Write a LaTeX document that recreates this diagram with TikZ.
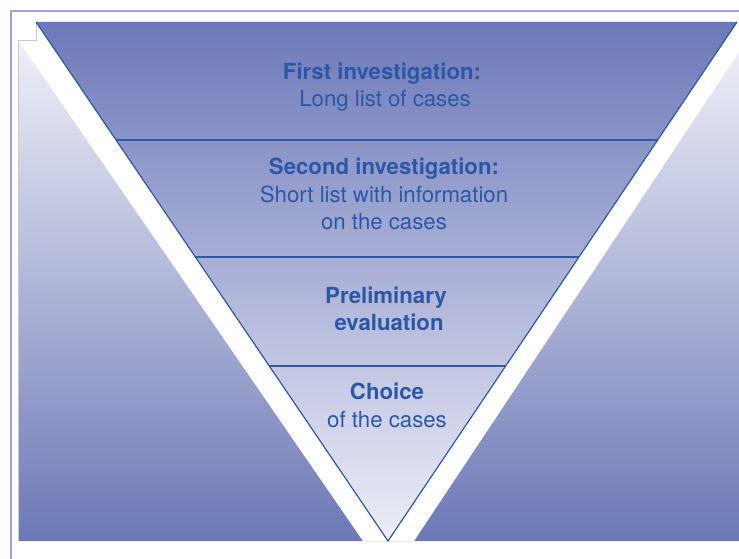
\documentclass[tikz,border=0pt]{standalone}
\usepackage{fontspec}
\setmainfont{TeX Gyre Heros}
\usetikzlibrary{calc}
\definecolor{bgtop}{HTML}{F4F4FA}
\definecolor{bgmid}{HTML}{C4C4E2}
\definecolor{bgbot}{HTML}{6C78B6}
\definecolor{intop}{HTML}{6D79B9}
\definecolor{inmid}{HTML}{A6A8D4}
\definecolor{inbot}{HTML}{EEEEF7}
\definecolor{edgeblue}{HTML}{2C5AA8}
\definecolor{txtblue}{HTML}{2A58A6}
\definecolor{framec}{HTML}{9E9EDC}
\definecolor{notchc}{HTML}{C8C8CC}
\tikzset{
  framestyle/.style={draw=framec, line width=1.3pt},
  notchstyle/.style={draw=notchc, line width=0.8pt},
  edgestyle/.style={draw=edgeblue, line width=1.2pt},
  seplinestyle/.style={draw=edgeblue, line width=1.2pt},
  lbl/.style={text=txtblue, align=center, font=\fontsize{22.2}{27.5}\selectfont, inner sep=0pt}
}
\begin{document}
\begin{tikzpicture}[x=1pt,y=-1pt]
\useasboundingbox (0,0) rectangle (739,559);
\fill[white] (0,0) rectangle (739,559);
% frame lines
\draw[framestyle] (10,11) -- (739,11);
\draw[framestyle] (11,11) -- (11,559);
% background with gradient
\shade[top color=bgtop, middle color=bgmid, bottom color=bgbot]
  (18,40) -- (36,40) -- (36,22) -- (739,22) -- (739,541) -- (18,541) -- cycle;
% white outer band
\fill[white] (18,40) -- (363,541) -- (414,541) -- (739,52) -- (739,22) -- (36,22) -- (36,40) -- cycle;
\draw[notchstyle] (18,541) -- (18,40) -- (36,40) -- (36,22);
% inner funnel
\coordinate (A) at (36,22);
\coordinate (B) at (737,22);
\coordinate (C) at (388,541);
\shade[top color=intop, middle color=inmid, bottom color=inbot] (A) -- (B) -- (C) -- cycle;
\draw[edgestyle] (A) -- (C) -- (B);
% separators
\draw[seplinestyle] ($(A)!0.2274!(C)$) -- ($(B)!0.2274!(C)$);
\draw[seplinestyle] ($(A)!0.4528!(C)$) -- ($(B)!0.4528!(C)$);
\draw[seplinestyle] ($(A)!0.6628!(C)$) -- ($(B)!0.6628!(C)$);
% labels
\node[lbl] (s1) at (382,87) {\textbf{First investigation:}\\ \ Long list of cases};
\node[lbl] (s2) at (384,194) {\textbf{Second investigation:}\\ Short list with information\\ on the cases};
\node[lbl] (s3) at (386,309) {\textbf{Preliminary}\\ \ \textbf{evaluation}};
\node[lbl] (s4) at (387,405.5) {\textbf{Choice}\\ of the cases};
\end{tikzpicture}
\end{document}
